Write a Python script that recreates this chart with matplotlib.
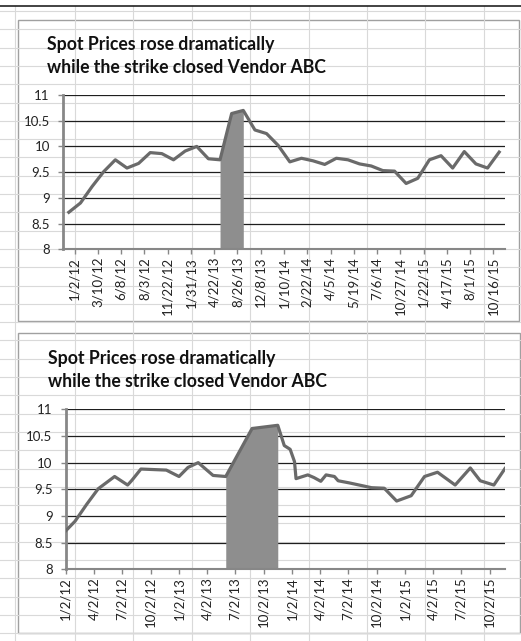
import datetime as dt
import numpy as np
import matplotlib
matplotlib.use('Agg')
import matplotlib.pyplot as plt
import matplotlib.dates as mdates
from matplotlib.patches import Rectangle

# spot price observations (irregular dates)
dates = [
    dt.date(2012, 1, 2), dt.date(2012, 2, 1), dt.date(2012, 3, 10), dt.date(2012, 4, 16),
    dt.date(2012, 6, 8), dt.date(2012, 7, 20), dt.date(2012, 8, 3), dt.date(2012, 9, 1),
    dt.date(2012, 11, 22), dt.date(2013, 1, 2), dt.date(2013, 1, 31), dt.date(2013, 3, 5),
    dt.date(2013, 4, 22), dt.date(2013, 6, 2), dt.date(2013, 8, 26), dt.date(2013, 11, 17),
    dt.date(2013, 12, 8), dt.date(2013, 12, 27), dt.date(2014, 1, 10), dt.date(2014, 1, 15),
    dt.date(2014, 2, 22), dt.date(2014, 3, 14), dt.date(2014, 4, 5), dt.date(2014, 4, 22),
    dt.date(2014, 5, 19), dt.date(2014, 5, 31), dt.date(2014, 7, 6), dt.date(2014, 9, 16),
    dt.date(2014, 10, 27), dt.date(2014, 12, 6), dt.date(2015, 1, 22), dt.date(2015, 3, 6),
    dt.date(2015, 4, 17), dt.date(2015, 6, 13), dt.date(2015, 8, 1), dt.date(2015, 9, 2),
    dt.date(2015, 10, 16), dt.date(2015, 11, 21),
]
prices = [
    8.72, 8.90, 9.22, 9.51, 9.74, 9.58, 9.67, 9.88,
    9.86, 9.74, 9.91, 10.00, 9.76, 9.74, 10.64, 10.70,
    10.32, 10.25, 10.02, 9.70, 9.77, 9.72, 9.65, 9.77,
    9.74, 9.66, 9.62, 9.53, 9.52, 9.28, 9.38, 9.74,
    9.82, 9.58, 9.90, 9.66, 9.58, 9.89,
]
strike_start = dt.date(2013, 6, 2)
strike_end = dt.date(2013, 11, 17)

title_lines = ["Spot Prices rose dramatically", "while the strike closed Vendor ABC"]
yticks = [8, 8.5, 9, 9.5, 10, 10.5, 11]
date_ticks = [dt.date(y, m, 2) for y in (2012, 2013, 2014, 2015) for m in (1, 4, 7, 10)]

W, H = 521, 641
LINE = '#6a6a6a'
FILL = '#8e8e8e'
AXIS = '#878787'
CELL = '#d9d9d9'
FONT = ['Lato', 'DejaVu Sans']

plt.rcParams['font.family'] = FONT


def fmt(d):
    return f"{d.month}/{d.day}/{d.year % 100}"


def px_axes(fig, left, top, right, bottom):
    return fig.add_axes([left / W, 1 - bottom / H, (right - left) / W, (bottom - top) / H])


def style(ax):
    ax.set_ylim(8, 11)
    ax.set_yticks(yticks)
    ax.set_yticklabels([f"{v:g}" for v in yticks])
    ax.grid(axis='y', color='#1e1e1e', lw=0.9)
    ax.set_axisbelow(True)
    ax.patch.set_alpha(0)
    for s in ('top', 'right'):
        ax.spines[s].set_visible(False)
    ax.spines['left'].set_color(AXIS)
    ax.spines['left'].set_linewidth(2)
    ax.spines['bottom'].set_color(AXIS)
    ax.spines['bottom'].set_linewidth(1.5)
    ax.tick_params(axis='y', length=3.5, width=1, color=AXIS, pad=6,
                   labelsize=9.5, labelcolor='#222222')
    ax.tick_params(axis='x', length=3.5, width=1, color=AXIS, pad=2,
                   labelsize=9.5, labelcolor='#222222', labelrotation=90)


fig = plt.figure(figsize=(W / 100, H / 100), dpi=100)

# spreadsheet background
bg = fig.add_axes([0, 0, 1, 1])
bg.set_xlim(0, W)
bg.set_ylim(H, 0)
bg.axis('off')
for y in np.arange(11, H, 18.3):
    bg.plot([0, W], [y, y], color=CELL, lw=0.8)
for x in [15] + list(np.arange(75, W, 58.4)):
    bg.plot([x, x], [6, H], color=CELL, lw=0.8)
bg.plot([0, W], [6, 6], color='#222222', lw=1.2)
bg.add_patch(Rectangle((17.5, 19.5), 501.5, 301, facecolor='white', edgecolor='#a0a0a0', lw=1))
bg.add_patch(Rectangle((18.3, 333), 502, 300, facecolor='white', edgecolor='#a0a0a0', lw=1))

for (tx, b1, b2) in [(47, 50, 73), (48, 364, 387)]:
    bg.text(tx, b1, title_lines[0], fontsize=12.7, fontweight='bold', va='baseline', color='#111111')
    bg.text(tx, b2, title_lines[1], fontsize=12.7, fontweight='bold', va='baseline', color='#111111')

strike = np.array([strike_start <= d <= strike_end for d in dates])
vals = np.array(prices)

# top chart: text (category) axis
ax1 = px_axes(fig, 63, 95, 505, 249.3)
idx = np.arange(len(dates))
ax1.fill_between(idx, 8, vals, where=strike, color=FILL, lw=0, zorder=2)
ax1.plot(idx, vals, color=LINE, lw=2.3, zorder=3)
ax1.set_xlim(-0.5, len(dates) - 0.5)
ax1.set_xticks(idx[::2] + 0.5)
ax1.set_xticklabels([fmt(dates[i]) for i in idx[::2]])
style(ax1)

# bottom chart: date axis
ax2 = px_axes(fig, 65.7, 409.3, 505, 569.3)
xd = mdates.date2num(dates)
ax2.fill_between(xd, 8, vals, where=strike, color=FILL, lw=0, zorder=2)
ax2.plot(xd, vals, color=LINE, lw=2.3, zorder=3)
ax2.set_xlim(xd[0], xd[-1])
ax2.set_xticks(mdates.date2num(date_ticks))
ax2.set_xticklabels([fmt(d) for d in date_ticks])
style(ax2)

fig.savefig('out.png', dpi=100)
